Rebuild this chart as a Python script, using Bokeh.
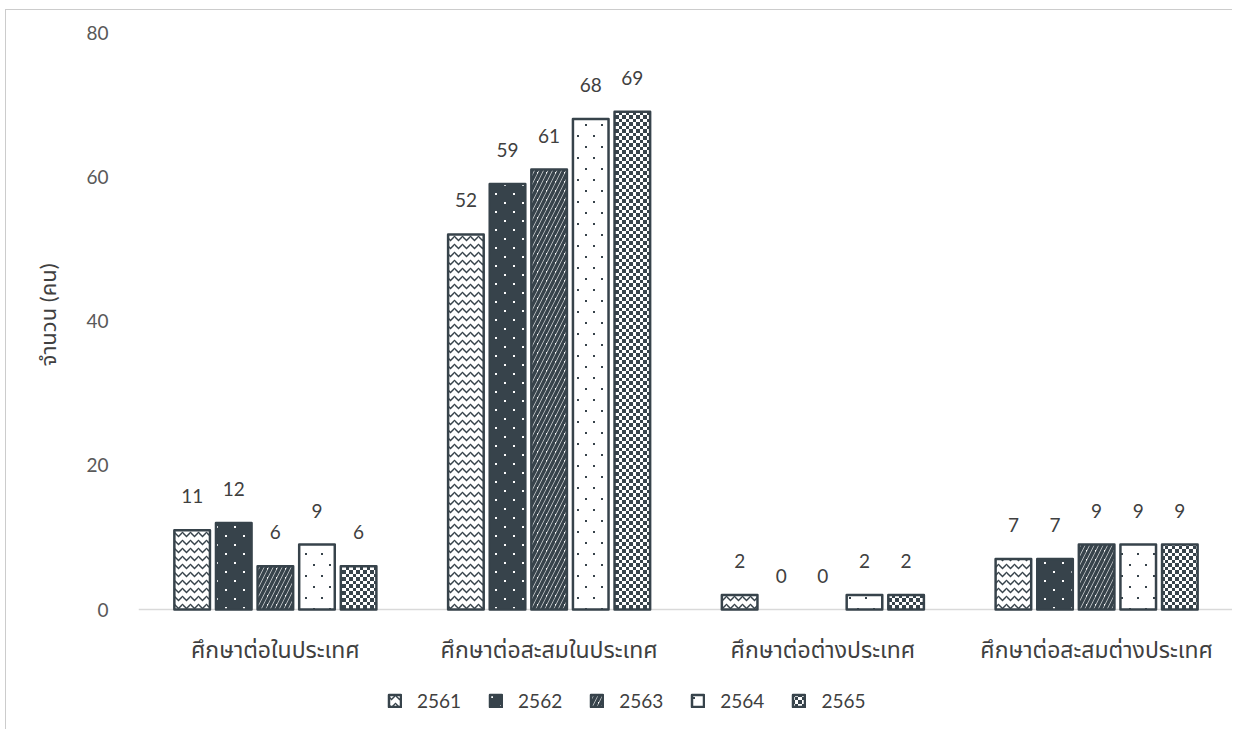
import base64, struct, zlib
from bokeh.plotting import figure
from bokeh.models import (ColumnDataSource, FactorRange, Range1d, Legend, LegendItem,
                          ImageURLTexture, Span, LabelSet, FixedTicker, Title)
from bokeh.transform import dodge
from bokeh.core.properties import value
from bokeh.embed import file_html
from bokeh.resources import INLINE

categories = ["ศึกษาต่อในประเทศ", "ศึกษาต่อสะสมในประเทศ", "ศึกษาต่อต่างประเทศ", "ศึกษาต่อสะสมต่างประเทศ"]
years = ["2561", "2562", "2563", "2564", "2565"]
v2561 = [11, 52, 2, 7]
v2562 = [12, 59, 0, 7]
v2563 = [6, 61, 0, 9]
v2564 = [9, 68, 2, 9]
v2565 = [6, 69, 2, 9]
y_ticks = [0, 20, 40, 60, 80]
y_label = "จำนวน (คน)"

series = [v2561, v2562, v2563, v2564, v2565]

DARK = "#37434b"
DARK_RGB = (55, 67, 75, 255)
WHITE_RGB = (255, 255, 255, 255)
FONT = "Lato, 'Noto Sans Thai', 'Noto Sans', sans-serif"


def png_url(w, h, pix):
    rows = []
    for i in range(h):
        row = bytearray([0])
        for j in range(w):
            row += bytes(pix(i, j))
        rows.append(bytes(row))
    raw = b"".join(rows)

    def chunk(t, d):
        c = struct.pack(">I", len(d)) + t + d
        return c + struct.pack(">I", zlib.crc32(t + d) & 0xffffffff)
    png = b"\x89PNG\r\n\x1a\n" + chunk(b"IHDR", struct.pack(">IIBBBBB", w, h, 8, 6, 0, 0, 0)) \
        + chunk(b"IDAT", zlib.compress(raw)) + chunk(b"IEND", b"")
    return "data:image/png;base64," + base64.b64encode(png).decode()


bands = [0, 0, 0, 0, 1, 1, 1, 2, 2, 2, 2, 3, 3, 3]
checker = ImageURLTexture(url=png_url(14, 14, lambda i, j: DARK_RGB if (bands[i] + bands[j]) % 2 == 0 else WHITE_RGB))


def dots(w, h, pts, fg, bg):
    cells = set()
    for (a, b) in pts:
        for di in (0, 1):
            for dj in (0, 1):
                cells.add((a + di, b + dj))
    return ImageURLTexture(url=png_url(w, h, lambda i, j: fg if (i, j) in cells else bg))


dots_white = dots(18, 18, [(3, 3), (12, 12)], WHITE_RGB, DARK_RGB)
dots_dark = dots(16, 22, [(4, 3), (15, 11)], DARK_RGB, WHITE_RGB)

# layout (pixels)
H = 720
TOP = 22
BOTTOM = 5
frame_h = H - TOP - BOTTOM
zero_to_top = 577
y_start = -(frame_h - zero_to_top) / zero_to_top * 80

p = figure(x_range=FactorRange(*categories), y_range=Range1d(y_start, 80),
           width=1227, height=H, output_backend="svg", toolbar_location=None,
           min_border_left=132, min_border_right=0, min_border_top=TOP, min_border_bottom=BOTTOM)
p.styles = {"margin-left": "5px", "margin-top": "9px",
            "border-left": "1.5px solid #cccccc", "border-top": "1.5px solid #cccccc"}
p.outline_line_color = None
p.xgrid.visible = False
p.ygrid.visible = False
p.xaxis.visible = False
p.background_fill_color = "white"

p.add_layout(Span(location=0, dimension="width", line_color="#d9d9d9", line_width=1.5, level="underlay"))

styles = [
    dict(fill_color="white", hatch_pattern="horizontal_wave", hatch_color=DARK, hatch_scale=8, hatch_weight=1.5),
    dict(fill_color=DARK, hatch_pattern=value("dw"), hatch_extra={"dw": dots_white}, hatch_color="white"),
    dict(fill_color="white", hatch_pattern="right_diagonal_line", hatch_color=DARK, hatch_scale=9, hatch_weight=3.5),
    dict(fill_color="white", hatch_pattern=value("dd"), hatch_extra={"dd": dots_dark}, hatch_color=DARK),
    dict(fill_color="white", hatch_pattern=value("checker"), hatch_extra={"checker": checker}, hatch_color=DARK),
]

step = 0.152
offsets = [-2 * step, -step, 0, step, 2 * step]
items = []
for yr, vals, off, st in zip(years, series, offsets, styles):
    src = ColumnDataSource(dict(cat=categories, val=vals, lab=[str(v) for v in vals],
                                la=[0.0 if v == 0 else 1.0 for v in vals]))
    r = p.vbar(x=dodge("cat", off, range=p.x_range), top="val", bottom=0, width=0.13, source=src,
               line_color=DARK, line_width=2.5, line_alpha="la", line_join="round", **st)
    items.append(LegendItem(label=yr, renderers=[r]))
    labels = LabelSet(x=dodge("cat", off, range=p.x_range), y="val", text="lab", source=src,
                      text_align="center", text_baseline="middle", y_offset=34,
                      text_font_size="19px", text_color="#404040", text_font=value(FONT))
    p.add_layout(labels)

cat_src = ColumnDataSource(dict(cat=categories, zero=[0] * len(categories)))
p.add_layout(LabelSet(x="cat", y="zero", text="cat", source=cat_src,
                      text_align="center", text_baseline="middle", y_offset=-39,
                      text_font_size="23px", text_color="#404040", text_font=value(FONT)))

yax = p.yaxis[0]
yax.ticker = FixedTicker(ticks=y_ticks)
yax.axis_line_color = None
yax.major_tick_line_color = None
yax.minor_tick_line_color = None
yax.major_label_standoff = 24
yax.major_label_text_font_size = "19px"
yax.major_label_text_color = "#595959"
yax.major_label_text_font = FONT

ytitle = Title(text=y_label, align="right", offset=231, standoff=46,
               text_font_size="22px", text_font_style="normal", text_color="#404040", text_font=FONT)
p.add_layout(ytitle, "left")

legend = Legend(items=items, orientation="horizontal", location=(249, 13),
                label_text_font_size="19px", label_text_color="#404040", label_text_font=FONT,
                glyph_width=15, glyph_height=15, label_standoff=15, spacing=27,
                border_line_color=None, background_fill_alpha=0, margin=0, padding=0)
p.add_layout(legend, "center")

open("out.html", "w").write(file_html(p, INLINE))
